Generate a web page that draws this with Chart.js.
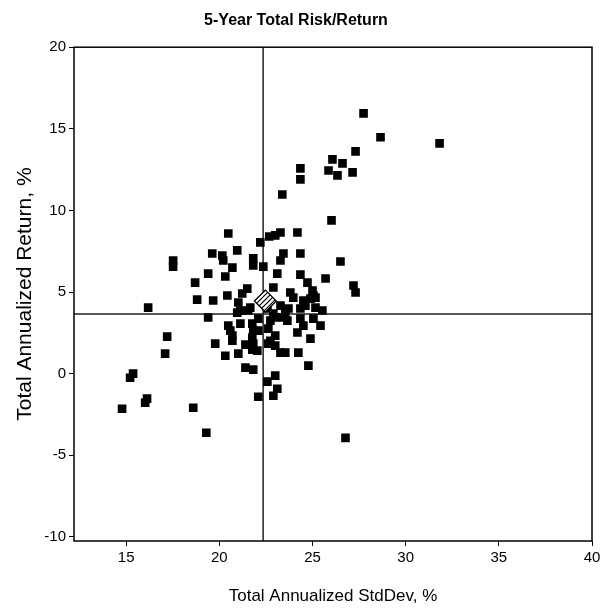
<html>
<head>
    <script src="https://cdn.jsdelivr.net/npm/chart.js"></script>
</head>
<body style="margin:0; background:#fff">
    <canvas id="myChart" width="605" height="614"></canvas>
    <script>
        // fund points: annualized std dev (x) and annualized return (y)
        const riskX = [27.74,28.65,31.82,27.31,26.07,26.61,25.86,26.34,27.15,24.35,
            24.35,23.38,26.02,24.19,23.28,23.0,22.68,22.2,20.48,20.96,
            23.44,23.28,24.35,26.5,21.82,21.82,22.36,20.7,23.11,24.35,
            25.7,27.2,27.31,25.05,17.52,17.52,19.62,20.16,20.21,19.4,
            20.32,18.7,18.81,19.67,20.43,21.5,21.23,21.02,21.13,21.66,
            19.4,24.73,22.9,25.0,23.81,23.97,24.89,24.62,25.16,24.35,
            25.53,23.28,23.71,22.58,22.9,24.35,25.05,23.38,
            20.96,20.48,20.59,20.7,20.7,21.13,21.77,21.82,22.09,21.77,
            22.09,19.78,20.32,21.02,21.4,21.82,21.77,22.04,21.4,21.82,
            22.58,22.09,18.6,22.63,22.74,23.0,24.51,25.43,22.63,23.0,
            24.19,24.89,22.74,23.0,23.28,23.54,24.24,24.78,23.0,23.11,
            22.9,16.18,17.2,17.09,15.21,15.37,16.02,16.12,14.78,19.3,26.77,23.65,
            21.55,24.51,25.16,23.54];
        const returnY = [15.95,14.48,14.11,13.62,13.13,12.88,12.45,12.15,12.33,12.58,
            11.9,10.98,9.39,8.65,8.65,8.47,8.4,8.04,8.59,7.55,
            7.36,6.93,7.36,6.87,7.06,6.63,6.56,6.5,6.13,6.07,
            5.83,5.4,4.97,4.79,6.93,6.56,7.36,7.24,6.93,6.13,
            5.95,5.58,4.54,4.48,4.79,5.21,4.91,4.36,3.87,4.05,
            3.44,5.58,5.28,5.09,4.97,4.66,4.6,4.17,4.05,3.99,
            3.87,4.17,3.99,3.99,3.68,3.37,3.37,3.44,
            3.74,2.94,2.64,2.33,2.02,3.07,3.07,2.64,2.64,2.21,
            3.37,1.84,1.1,1.23,1.78,1.84,1.47,1.41,0.37,0.25,
            -0.49,-1.41,-2.09,1.84,3.25,3.44,2.94,2.94,2.76,2.33,
            2.52,2.15,2.02,1.72,1.29,1.29,1.29,0.49,-0.12,-0.92,
            -1.35,4.05,2.27,1.23,-0.25,0.0,-1.78,-1.53,-2.15,-3.62,-3.93,3.25,
            3.87,4.48,4.66,3.68];

        // benchmark (hatched diamond) and the two average lines
        const benchRisk = [22.47];
        const benchReturn = [4.45];
        const avgRisk = 22.35;
        const avgReturn = 3.65;

        const xTicks = [15, 20, 25, 30, 35, 40];
        const yTicks = [-10, -5, 0, 5, 10, 15, 20];
        const xRange = [12.2, 40];
        const yRange = [-10.25, 20];

        Chart.defaults.font.family = '"Liberation Sans", Arial, sans-serif';
        Chart.defaults.color = '#000';

        // hatch pattern for the benchmark diamond
        function makeHatch() {
            const c = document.createElement('canvas');
            c.width = 5; c.height = 5;
            const g = c.getContext('2d');
            g.fillStyle = '#fff';
            g.fillRect(0, 0, 5, 5);
            g.strokeStyle = '#000';
            g.lineWidth = 1.2;
            g.beginPath();
            g.moveTo(0, 5); g.lineTo(5, 0);
            g.moveTo(-1, 1); g.lineTo(1, -1);
            g.moveTo(4, 6); g.lineTo(6, 4);
            g.stroke();
            return g.createPattern(c, 'repeat');
        }

        const frame = {
            id: 'frame',
            afterDatasetsDraw(chart) {
                const { ctx, chartArea: a } = chart;
                ctx.save();
                ctx.strokeStyle = '#000';
                ctx.lineWidth = 1.5;
                ctx.strokeRect(a.left, a.top, a.right - a.left, a.bottom - a.top);
                ctx.restore();
            }
        };

        const points = riskX.map((x, i) => ({ x: x, y: returnY[i] }));
        const bench = benchRisk.map((x, i) => ({ x: x, y: benchReturn[i] }));

        new Chart(document.getElementById('myChart'), {
            type: 'scatter',
            data: {
                datasets: [
                    {
                        data: bench,
                        pointStyle: 'rectRot',
                        pointRadius: 11,
                        backgroundColor: makeHatch(),
                        borderColor: '#000',
                        borderWidth: 1.2,
                        order: 0
                    },
                    {
                        data: points,
                        pointStyle: 'rect',
                        pointRadius: 6.1,
                        backgroundColor: '#000',
                        borderColor: '#000',
                        borderWidth: 0,
                        order: 1
                    },
                    {
                        type: 'line',
                        data: [{ x: avgRisk, y: yRange[0] }, { x: avgRisk, y: yRange[1] }],
                        borderColor: '#222',
                        borderWidth: 1.5,
                        pointRadius: 0,
                        order: 2
                    },
                    {
                        type: 'line',
                        data: [{ x: xRange[0], y: avgReturn }, { x: xRange[1], y: avgReturn }],
                        borderColor: '#222',
                        borderWidth: 1.5,
                        pointRadius: 0,
                        order: 2
                    }
                ]
            },
            options: {
                responsive: false,
                animation: false,
                devicePixelRatio: 1,
                layout: { padding: { left: 0, right: 13, top: 0, bottom: 0 } },
                plugins: {
                    legend: { display: false },
                    tooltip: { enabled: false },
                    title: {
                        display: true,
                        text: '5-Year Total Risk/Return',
                        font: { size: 16, weight: 'bold' },
                        padding: { top: 11, bottom: 17 }
                    }
                },
                scales: {
                    x: {
                        type: 'linear',
                        min: xRange[0],
                        max: xRange[1],
                        afterBuildTicks: s => { s.ticks = xTicks.map(v => ({ value: v })); },
                        afterFit: s => { s.height = 73; },
                        grid: { drawOnChartArea: false, tickLength: 5, color: '#000' },
                        border: { display: false },
                        ticks: { font: { size: 15 }, padding: 3, maxRotation: 0 },
                        title: {
                            display: true,
                            text: 'Total Annualized StdDev, %',
                            font: { size: 17 },
                            padding: { top: 0, bottom: 7 }
                        }
                    },
                    y: {
                        type: 'linear',
                        min: yRange[0],
                        max: yRange[1],
                        afterBuildTicks: s => { s.ticks = yTicks.map(v => ({ value: v })); },
                        afterFit: s => { s.width = 74; },
                        grid: { drawOnChartArea: false, tickLength: 5, color: '#000' },
                        border: { display: false },
                        ticks: { font: { size: 15 }, padding: 3 },
                        title: {
                            display: true,
                            text: 'Total Annualized Return, %',
                            font: { size: 21 },
                            padding: { top: 13, bottom: 0 }
                        }
                    }
                }
            },
            plugins: [frame]
        });
    </script>
</body>
</html>
